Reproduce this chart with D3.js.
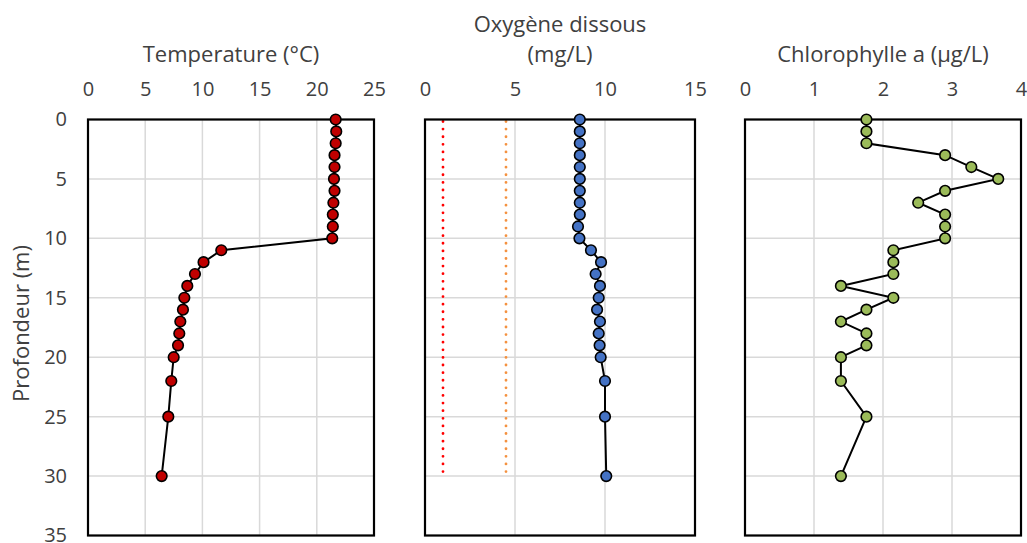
<!DOCTYPE html>
<html lang="fr">
<head>
  <meta charset="UTF-8">
  <title>Profils verticaux</title>
  <script src="https://d3js.org/d3.v7.min.js"></script>
  <style>
    body { margin: 0; background: #fff; font-family: "Open Sans", sans-serif; }
    .tick text { font-family: "Open Sans", sans-serif; font-size: 20px; fill: #404040; }
    .title { font-size: 22px; fill: #404040; }
  </style>
</head>
<body>
<svg width="1027" height="543"></svg>

<script>
  // Profondeurs (m)
  const depths = [0, 1, 2, 3, 4, 5, 6, 7, 8, 9, 10, 11, 12, 13, 14, 15, 16, 17, 18, 19, 20, 22, 25, 30];

  // Température (°C)
  const temperature = [21.65, 21.7, 21.65, 21.55, 21.55, 21.5, 21.55, 21.45, 21.4, 21.4, 21.35,
    11.65, 10.1, 9.35, 8.68, 8.42, 8.3, 8.07, 7.98, 7.87, 7.49, 7.28, 7.02, 6.44];

  // Oxygène dissous (mg/L)
  const oxygen = [8.6, 8.6, 8.6, 8.6, 8.6, 8.6, 8.6, 8.6, 8.6, 8.5, 8.58,
    9.22, 9.78, 9.48, 9.72, 9.65, 9.56, 9.72, 9.65, 9.7, 9.76, 10.0, 10.0, 10.07];

  // Seuils d'oxygène (lignes pointillées)
  const oxygenThresholds = [1, 4.5];
  const thresholdDepths = [0, 30];

  // Chlorophylle a (µg/L)
  const chlorophyll = [1.76, 1.76, 1.76, 2.9, 3.28, 3.67, 2.9, 2.51, 2.9, 2.9, 2.9,
    2.15, 2.15, 2.15, 1.39, 2.15, 1.76, 1.39, 1.76, 1.76, 1.39, 1.39, 1.76, 1.39];

  const depthTicks = [0, 5, 10, 15, 20, 25, 30, 35];

  const svg = d3.select("svg");
  const plotTop = 119.5, plotBottom = 535.5;
  const y = d3.scaleLinear().domain([0, 35]).range([plotTop, plotBottom]);

  const panels = [
    { title: ["Temperature (°C)"], values: temperature, domain: [0, 25], ticks: [0, 5, 10, 15, 20, 25],
      x0: 88, x1: 374, fill: "#C00000" },
    { title: ["Oxygène dissous", "(mg/L)"], values: oxygen, domain: [0, 15], ticks: [0, 5, 10, 15],
      x0: 425, x1: 695, fill: "#4472C4" },
    { title: ["Chlorophylle a (µg/L)"], values: chlorophyll, domain: [0, 4], ticks: [0, 1, 2, 3, 4],
      x0: 745, x1: 1021, fill: "#9BBB59" }
  ];

  panels.forEach((p, i) => {
    const x = d3.scaleLinear().domain(p.domain).range([p.x0, p.x1]);
    const g = svg.append("g");

    // Grille
    g.selectAll("line.vgrid").data(p.ticks).join("line")
      .attr("class", "vgrid")
      .attr("x1", d => x(d)).attr("x2", d => x(d))
      .attr("y1", plotTop).attr("y2", plotBottom)
      .attr("stroke", "#D9D9D9").attr("stroke-width", 1.5);
    g.selectAll("line.hgrid").data(depthTicks).join("line")
      .attr("class", "hgrid")
      .attr("x1", p.x0).attr("x2", p.x1)
      .attr("y1", d => y(d)).attr("y2", d => y(d))
      .attr("stroke", "#D9D9D9").attr("stroke-width", 1.5);

    // Axe du haut
    g.append("g")
      .attr("transform", `translate(0,${plotTop})`)
      .call(d3.axisTop(x).tickValues(p.ticks).tickSize(0).tickPadding(24).tickFormat(d3.format("d")))
      .call(a => a.select(".domain").remove());

    // Seuils d'oxygène
    if (i === 1) {
      const colors = ["#FF0000", "#F4913F"];
      oxygenThresholds.forEach((t, k) => {
        g.append("line")
          .attr("x1", x(t)).attr("x2", x(t))
          .attr("y1", y(thresholdDepths[0]) + 2).attr("y2", y(thresholdDepths[1]))
          .attr("stroke", colors[k]).attr("stroke-width", 2.8)
          .attr("stroke-linecap", "round")
          .attr("stroke-dasharray", "0.01 7.6");
      });
    }

    // Cadre
    g.append("rect")
      .attr("x", p.x0).attr("y", plotTop)
      .attr("width", p.x1 - p.x0).attr("height", plotBottom - plotTop)
      .attr("fill", "none").attr("stroke", "#000").attr("stroke-width", 2.2);

    // Profil
    const pts = depths.map((d, j) => ({ depth: d, value: p.values[j] }));
    g.append("path")
      .datum(pts)
      .attr("fill", "none").attr("stroke", "#000").attr("stroke-width", 2)
      .attr("d", d3.line().x(d => x(d.value)).y(d => y(d.depth)));
    g.selectAll("circle").data(pts).join("circle")
      .attr("cx", d => x(d.value)).attr("cy", d => y(d.depth))
      .attr("r", 5.3)
      .attr("fill", p.fill).attr("stroke", "#000").attr("stroke-width", 1.6);

    // Titre
    const cx = (p.x0 + p.x1) / 2;
    p.title.forEach((t, k) => {
      svg.append("text").attr("class", "title")
        .attr("x", cx).attr("y", 62 - (p.title.length - 1 - k) * 30)
        .attr("text-anchor", "middle").text(t);
    });

    // Axe des profondeurs (premier panneau seulement)
    if (i === 0) {
      svg.append("g")
        .attr("transform", `translate(${p.x0},0)`)
        .call(d3.axisLeft(y).tickValues(depthTicks).tickSize(0).tickPadding(21))
        .call(a => a.select(".domain").remove());
      svg.append("text").attr("class", "title")
        .attr("transform", `translate(29,${(plotTop + plotBottom) / 2 - 4}) rotate(-90)`)
        .attr("text-anchor", "middle")
        .style("font-size", "22px")
        .text("Profondeur (m)");
    }
  });
</script>

</body>
</html>
